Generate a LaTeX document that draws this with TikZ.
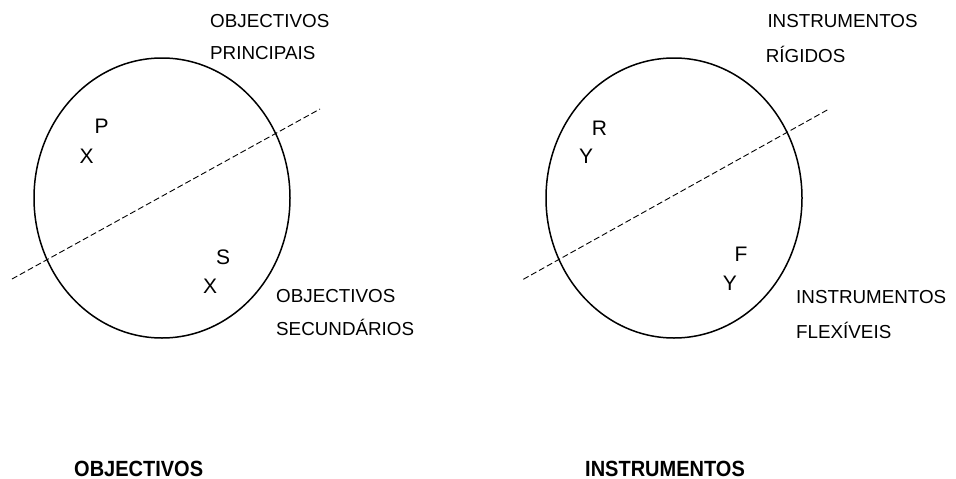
\documentclass[tikz,border=0pt]{standalone}
\usepackage{fontspec}
\setmainfont{Liberation Sans}
\usetikzlibrary{shapes.geometric}
\begin{document}
\begin{tikzpicture}[x=1pt,y=-1pt,
  lbl/.style={anchor=base west,inner sep=0pt,font=\fontsize{18.8}{22}\selectfont},
  letterlbl/.style={anchor=base west,inner sep=0pt,font=\fontsize{21}{24}\selectfont},
  blbl/.style={anchor=base west,inner sep=0pt,font=\fontsize{20}{24}\selectfont\bfseries},
  oval/.style={draw,ellipse,line width=1.5pt,minimum width=256pt,minimum height=280pt,inner sep=0pt},
  cut/.style={line width=0.9pt,dash pattern=on 6pt off 3pt}]
\useasboundingbox (0,0) rectangle (956,479);
% left diagram
\node[oval] (eL) at (162,198) {};
\coordinate (l1) at (12,279);
\coordinate (l2) at (320,109);
\draw[cut] (l1) -- (l2);
\node[lbl] (tL1) at (210,27.7) {OBJECTIVOS};
\node[lbl] (tL2) at (210,59.3) {PRINCIPAIS};
\node[letterlbl] (pL) at (94.5,133.3) {P};
\node[letterlbl] (xL1) at (79.5,163) {X};
\node[letterlbl] (sL) at (216,264.3) {S};
\node[letterlbl] (xL2) at (203,293.3) {X};
\node[lbl] (bL1) at (276,302.3) {OBJECTIVOS};
\node[lbl] (bL2) at (276,335.5) {SECUNDÁRIOS};
% right diagram
\node[oval] (eR) at (674,198) {};
\coordinate (r1) at (523.3,279.3);
\coordinate (r2) at (829,109);
\draw[cut] (r1) -- (r2);
\node[lbl] (tR1) at (767.3,27.7) {INSTRUMENTOS};
\node[lbl] (tR2) at (765.7,62) {RÍGIDOS};
\node[letterlbl] (rR) at (591.6,135) {R};
\node[letterlbl] (yR1) at (579,163.3) {Y};
\node[letterlbl] (fR) at (734.3,261.7) {F};
\node[letterlbl] (yR2) at (722.7,290) {Y};
\node[lbl] (bR1) at (796,303.3) {INSTRUMENTOS};
\node[lbl] (bR2) at (796,338) {FLEXÍVEIS};
% captions
\node[blbl] (cL) at (74,476) {\scalebox{1}[1.1]{OBJECTIVOS}};
\node[blbl] (cR) at (585,476) {\scalebox{1}[1.1]{INSTRUMENTOS}};
\end{tikzpicture}
\end{document}
